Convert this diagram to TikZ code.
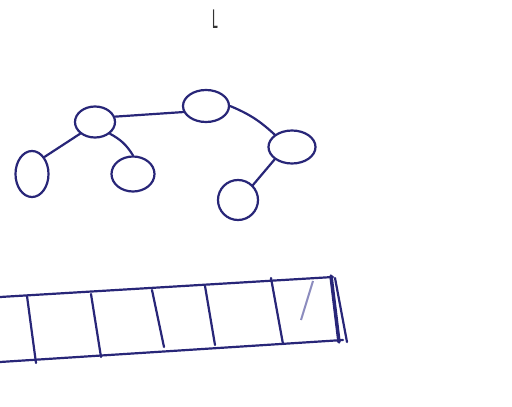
\documentclass[tikz,border=0pt]{standalone}
\usepackage{fontspec}
\setmainfont{Fira Sans}
\usetikzlibrary{shapes.geometric}
\definecolor{ink}{RGB}{40,38,120}
\definecolor{faint}{RGB}{140,140,190}
\tikzset{
  treenode/.style={draw=ink, ellipse, line width=2.2pt, inner sep=0pt},
  link/.style={draw=ink, line width=2.2pt, line cap=round},
  cellwall/.style={draw=ink, line width=2.2pt, line cap=round},
}
\begin{document}
\begin{tikzpicture}[x=1pt,y=-1pt]
\useasboundingbox (0,0) rectangle (512,407);
\fill[white] (0,0) rectangle (512,407);
\node[text=black!80, font=\fontsize{27}{27}\selectfont\addfontfeatures{FakeStretch=0.45}, inner sep=0pt] (lbl) at (215,19) {L};
% tree
\node[treenode, minimum width=46pt, minimum height=32pt] (root) at (206,106) {};
\node[treenode, minimum width=40pt, minimum height=31pt] (a) at (95,122) {};
\node[treenode, minimum width=33pt, minimum height=46pt] (al) at (32,174) {};
\node[treenode, minimum width=43pt, minimum height=35pt] (ar) at (133,174) {};
\node[treenode, minimum width=47pt, minimum height=33pt] (c) at (292,147) {};
\node[treenode, minimum width=40pt, minimum height=40pt] (cl) at (238,200) {};
\draw[link] (a.15) -- (root.195);
\draw[link] (a.south west) -- (al.north east);
\draw[link] (a.south east) to[bend left=15] (ar.north);
\draw[link] (root.east) to[bend left=10] (c.north west);
\draw[link] (c.south west) -- (cl.north east);
% array
\coordinate (tl) at (0,297);
\coordinate (tr) at (333,277);
\coordinate (bl) at (0,362);
\coordinate (br) at (343,340);
\draw[cellwall] (tl) -- (tr);
\draw[cellwall] (bl) -- (br);
\draw[cellwall] (27,296) -- (36,363);
\draw[cellwall] (91,294) -- (101,357);
\draw[cellwall] (152,290) -- (164,347);
\draw[cellwall] (205,286) -- (215,345);
\draw[cellwall] (271,278) -- (283,344);
\draw[faint, line width=2pt] (313,281) -- (301,320);
\draw[cellwall, line width=3.5pt] (331,276) -- (339,342);
\draw[cellwall] (335,278) -- (347,342);
\end{tikzpicture}
\end{document}
